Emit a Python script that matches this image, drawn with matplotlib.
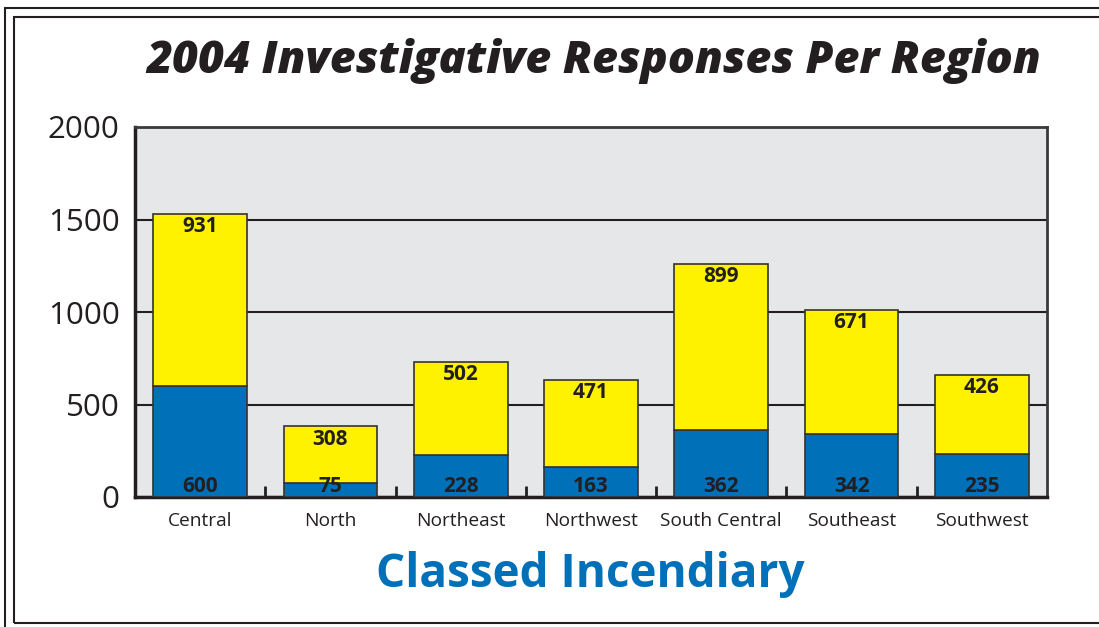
import numpy as np
import matplotlib.pyplot as plt
from matplotlib.patches import Rectangle
from matplotlib.ticker import FixedLocator

regions = ['Central', 'North', 'Northeast', 'Northwest', 'South Central', 'Southeast', 'Southwest']
blue_vals = [600, 75, 228, 163, 362, 342, 235]
yellow_vals = [931, 308, 502, 471, 899, 671, 426]
yticks = [0, 500, 1000, 1500, 2000]

BLUE = '#0070b9'
YELLOW = '#fff200'
GRAY = '#e6e7e8'
EDGE = '#333333'

plt.rcParams['font.family'] = ['Open Sans', 'DejaVu Sans']

fig = plt.figure(figsize=(10.99, 6.27), dpi=100)
ax = fig.add_axes([135 / 1099, 1 - 497 / 627, (1047 - 135) / 1099, (497 - 127) / 627])

x = np.arange(len(regions))
ax.set_facecolor(GRAY)
ax.bar(x, blue_vals, width=0.72, color=BLUE, edgecolor=EDGE, linewidth=1.2, zorder=3)
ax.bar(x, yellow_vals, bottom=blue_vals, width=0.72, color=YELLOW, edgecolor=EDGE, linewidth=1.2, zorder=3)

for xi, b, y in zip(x, blue_vals, yellow_vals):
    ax.text(xi, 55, str(b), ha='center', va='center', fontsize=15, fontweight='bold', color='#231f20', zorder=4)
    ax.text(xi, b + y - 70, str(y), ha='center', va='center', fontsize=15, fontweight='bold', color='#231f20', zorder=4)

ax.set_xlim(-0.5, len(regions) - 0.5)
ax.set_ylim(0, 2000)
ax.set_yticks(yticks)
ax.set_yticklabels([str(t) for t in yticks], fontsize=22.5, color='#231f20')
ax.tick_params(axis='y', length=0, pad=11)
ax.set_xticks(x)
ax.set_xticklabels(regions, fontsize=13.8, color='#231f20')
ax.tick_params(axis='x', which='major', length=0, pad=11)
ax.xaxis.set_minor_locator(FixedLocator(x[:-1] + 0.5))
ax.tick_params(axis='x', which='minor', direction='in', length=8, width=2, color='#231f20')
ax.yaxis.grid(True, color='#231f20', linewidth=1.5, zorder=1)
ax.set_axisbelow(True)
for side in ['left', 'bottom']:
    ax.spines[side].set_linewidth(2.5)
    ax.spines[side].set_color('#231f20')
for side in ['top', 'right']:
    ax.spines[side].set_linewidth(2)
    ax.spines[side].set_color('#3a3a3a')

fig.text(594 / 1099, 1 - 61 / 627, '2004 Investigative Responses Per Region', ha='center', va='center',
         fontsize=32.3, fontweight='heavy', fontstyle='italic', color='#231f20')
fig.text(590 / 1099, 1 - 575 / 627, 'Classed Incendiary', ha='center', va='center',
         fontsize=33, fontweight='bold', color=BLUE)

# double frame around the chart
fig.patches.append(Rectangle((5 / 1099, -0.1), 1.2, 1 - 8 / 627 + 0.1, transform=fig.transFigure,
                             fill=False, edgecolor='#231f20', linewidth=1.5))
fig.patches.append(Rectangle((14 / 1099, 1 - 623 / 627), 1.2, (623 - 17) / 627, transform=fig.transFigure,
                             fill=False, edgecolor='#231f20', linewidth=1.5))

fig.savefig('out.png', dpi=100)
